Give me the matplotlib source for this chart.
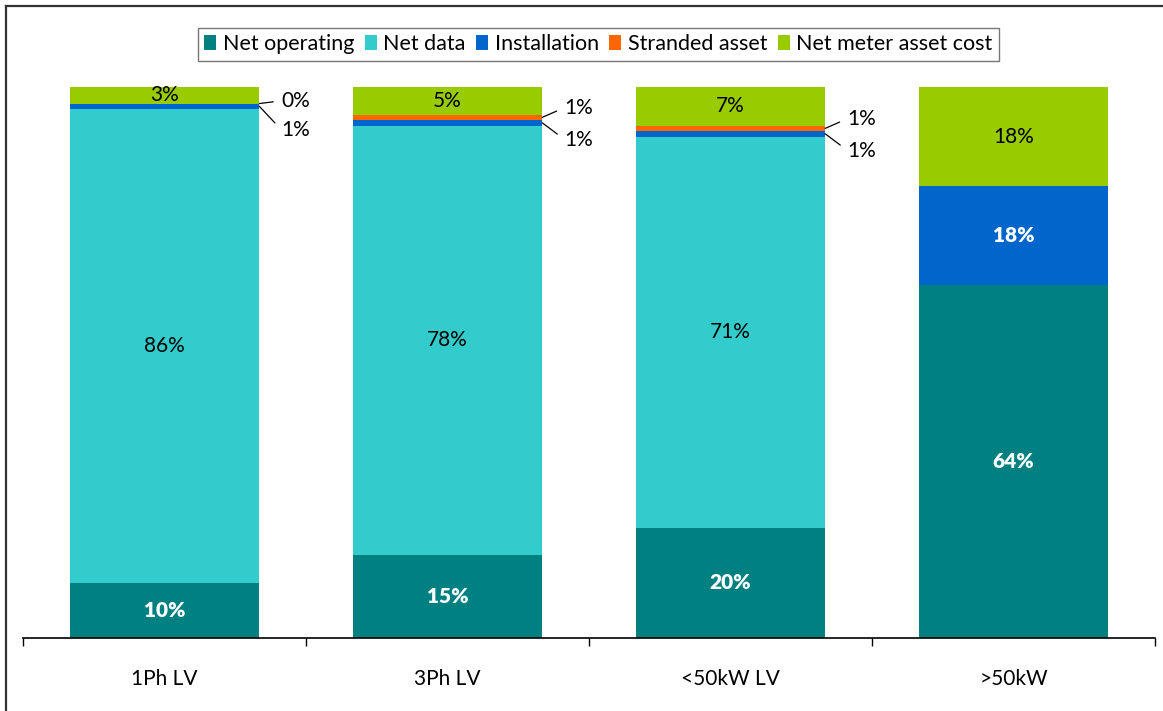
import matplotlib.pyplot as plt
import numpy as np
from matplotlib.lines import Line2D
from matplotlib.patches import Patch

plt.rcParams['font.family'] = ['Lato', 'DejaVu Sans']

categories = ["1Ph LV", "3Ph LV", "<50kW LV", ">50kW"]
net_operating = [10, 15, 20, 64]
net_data = [86, 78, 71, 0]
installation = [1, 1, 1, 18]
stranded = [0, 1, 1, 0]
net_meter = [3, 5, 7, 18]

series = [
    ("Net operating", net_operating, "#008080"),
    ("Net data", net_data, "#33CCCC"),
    ("Installation", installation, "#0066CC"),
    ("Stranded asset", stranded, "#FF6600"),
    ("Net meter asset cost", net_meter, "#99CC00"),
]
white_bold = {"Net operating", "Installation"}

# small segments on the first three bars get a callout to the right:
# (series name, vertical offset of the text in points) per bar
callouts = [
    [("Stranded asset", 2), ("Installation", -17)],
    [("Stranded asset", 7), ("Installation", -12)],
    [("Stranded asset", 7), ("Installation", -12)],
]

fig = plt.figure(figsize=(11.63, 7.11), dpi=100)
ax = fig.add_axes([0.0198, 0.1027, 0.9733, 0.7749])

x = np.arange(len(categories))
width = 0.67
bottom = np.zeros(len(categories))
centers = {}
for name, vals, color in series:
    vals = np.array(vals, dtype=float)
    ax.bar(x, vals, width, bottom=bottom, color=color, linewidth=0)
    centers[name] = bottom + vals / 2
    for i, v in enumerate(vals):
        if v >= 3:
            if name in white_bold and (name == "Net operating" or v >= 10):
                ax.text(x[i], bottom[i] + v / 2, f"{v:.0f}%", ha="center", va="center",
                        color="white", fontsize=15, fontweight="heavy")
            else:
                ax.text(x[i], bottom[i] + v / 2, f"{v:.0f}%", ha="center", va="center",
                        color="black", fontsize=15)
    bottom += vals

lookup = {name: vals for name, vals, _ in series}
for i, items in enumerate(callouts):
    for name, dy in items:
        v = lookup[name][i]
        ax.annotate(f"{v:.0f}%", xy=(x[i] + width / 2, centers[name][i]),
                    xytext=(16, dy), textcoords="offset points",
                    ha="left", va="center", fontsize=15,
                    arrowprops=dict(arrowstyle="-", color="black", lw=0.9,
                                    relpos=(0, 0.5), shrinkA=4, shrinkB=0))

ax.set_xlim(-0.5, len(categories) - 0.5)
ax.set_ylim(0, 100)
ax.set_yticks([])
for side in ["left", "right", "top"]:
    ax.spines[side].set_visible(False)
ax.spines["bottom"].set_linewidth(1.2)

ax.set_xticks(np.arange(-0.5, len(categories)))
ax.set_xticklabels([])
ax.tick_params(axis="x", which="major", direction="out", length=6, width=1.0)
ax.set_xticks(x, minor=True)
ax.set_xticklabels(categories, minor=True)
ax.tick_params(axis="x", which="minor", length=0, pad=22, labelsize=15)

handles = [Patch(facecolor=c, edgecolor="none", label=n) for n, _, c in series]
leg = fig.legend(handles=handles, loc="center", bbox_to_anchor=(0.5146, 0.938),
                 ncol=5, fontsize=15.5, frameon=True, fancybox=False,
                 handlelength=0.55, handleheight=0.7, handletextpad=0.3,
                 columnspacing=0.5, borderpad=0.3)
leg.get_frame().set_edgecolor("#555555")
leg.get_frame().set_linewidth(1.0)

# outer frame (top and left edges)
fig.add_artist(Line2D([6 / 1163, 1], [1 - 6 / 711, 1 - 6 / 711], transform=fig.transFigure,
                      color="#333333", lw=1.6))
fig.add_artist(Line2D([6 / 1163, 6 / 1163], [0, 1 - 6 / 711], transform=fig.transFigure,
                      color="#333333", lw=1.6))

fig.savefig("out.png", dpi=100)
